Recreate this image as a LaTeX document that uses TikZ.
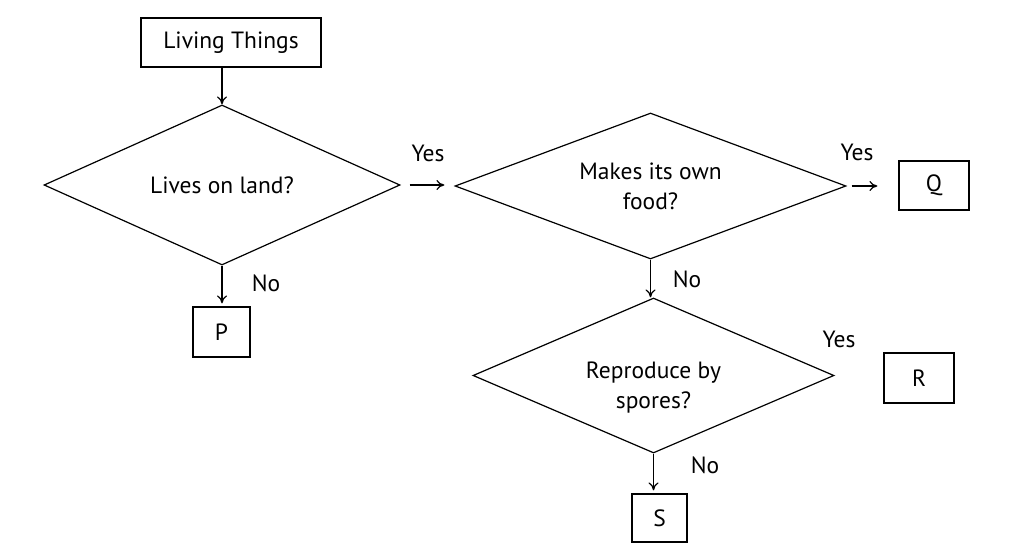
\documentclass[tikz,border=0pt]{standalone}
\usepackage{fontspec}
\setmainfont{PT Sans}
\usetikzlibrary{shapes.geometric, arrows.meta}

\tikzset{
    boxnode/.style={draw, line width=1.2pt, inner sep=0pt, font=\fontsize{23.5}{30}\selectfont},
    decision/.style={draw, diamond, shape aspect=2.5, line width=1.2pt, inner sep=0pt, align=center, font=\fontsize{23.5}{30}\selectfont},
    answer/.style={inner sep=0pt, font=\fontsize{23.5}{30}\selectfont},
    flow/.style={line width=1.2pt, -{To[length=8pt, width=10pt]}}
}

\begin{document}
\begin{tikzpicture}[x=1pt,y=1pt,yscale=-1,xscale=1]
    \useasboundingbox (0,0) rectangle (1011,559);

    %Shape: Rectangle [id:living]
    \node [boxnode, minimum width=180, minimum height=49] (living) at (231,42.5) {Living Things};
    %Shape: Diamond [id:land]
    \node [decision, minimum width=356, minimum height=160] (land) at (222,185) {Lives on land?};
    %Shape: Diamond [id:food]
    \node [decision, minimum width=391, minimum height=146] (food) at (650.5,186) {Makes its own\\food?};
    %Shape: Diamond [id:spores]
    \node [decision, text height=70pt, minimum width=361, minimum height=155] (spores) at (653.5,375.5) {Reproduce by\\spores?};

    %Shape: Rectangle [id:boxP]
    \node [boxnode, minimum width=57, minimum height=50] (boxP) at (221.5,332) {P};
    %Shape: Rectangle [id:boxQ]
    \node [boxnode, minimum width=70, minimum height=49] (boxQ) at (934,185.5) {Q};
    %Shape: Rectangle [id:boxR]
    \node [boxnode, minimum width=70, minimum height=50] (boxR) at (919,378) {R};
    %Shape: Rectangle [id:boxS]
    \node [boxnode, minimum width=55, minimum height=48] (boxS) at (659.5,518) {S};

    %Straight Lines
    \draw [flow] (living.south -| land.north) -- (land.north);
    \draw [flow, shorten >=3pt] (land.south) -- (land.south |- boxP.north);
    \draw [flow, shorten <=9pt, shorten >=10pt] (land.east) -- (land.east -| food.west);
    \draw [flow, shorten <=5pt, shorten >=21pt] (food.east) -- (food.east -| boxQ.west);
    \draw [flow] (food.south) -- (food.south |- spores.north);
    \draw [flow, shorten >=3pt] (spores.south) -- (spores.south |- boxS.north);

    % Text Node
    \node [answer] (yesLand) at (428,153) {Yes};
    % Text Node
    \node [answer] (noLand) at (266,283) {No};
    % Text Node
    \node [answer] (yesFood) at (857,152) {Yes};
    % Text Node
    \node [answer] (noFood) at (687,279) {No};
    % Text Node
    \node [answer] (yesSpores) at (839,339) {Yes};
    % Text Node
    \node [answer] (noSpores) at (705,465) {No};

\end{tikzpicture}
\end{document}
